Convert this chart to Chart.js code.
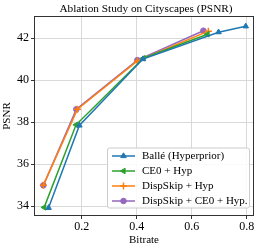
<!DOCTYPE html>
<html>
<head>
<meta charset="utf-8">
<script src="https://cdn.jsdelivr.net/npm/chart.js@4/dist/chart.umd.min.js"></script>
<style>
  html, body { margin: 0; padding: 0; background: #fff; }
  #wrap { width: 263px; height: 250px; }
</style>
</head>
<body>
<div id="wrap"><canvas id="c" width="263" height="250"></canvas></div>
<script>
// series names
var names = ["Ballé (Hyperprior)", "CE0 + Hyp", "DispSkip + Hyp", "DispSkip + CE0 + Hyp."];
// bitrate / psnr
var balleX = [0.079, 0.191, 0.422, 0.697, 0.796];
var balleY = [33.93, 37.85, 41.01, 42.29, 42.57];
var ce0X = [0.063, 0.179, 0.424, 0.657];
var ce0Y = [33.95, 37.88, 41.05, 42.19];
var skipX = [0.060, 0.184, 0.402, 0.660];
var skipY = [35.0, 38.62, 40.92, 42.34];
var bothX = [0.060, 0.180, 0.402, 0.642];
var bothY = [35.0, 38.62, 40.96, 42.36];
var xTicks = [0.2, 0.4, 0.6, 0.8];
var yTicks = [34, 36, 38, 40, 42];

var serif = "'Liberation Serif', 'DejaVu Serif', serif";

function pts(xs, ys) {
  return xs.map(function (x, i) { return { x: x, y: ys[i] }; });
}

var colors = ["#1f77b4", "#2ca02c", "#ff7f0e", "#9467bd"];
var styles = ["triangle", "triangle", "cross", "circle"];
var rots = [0, -90, 0, 0];
var sizes = [3.2, 3.2, 3.5, 2.8];
var series = [pts(balleX, balleY), pts(ce0X, ce0Y), pts(skipX, skipY), pts(bothX, bothY)];

var datasets = series.map(function (d, i) {
  return {
    label: names[i],
    data: d,
    borderColor: colors[i],
    backgroundColor: colors[i],
    borderWidth: 1.5,
    pointStyle: styles[i],
    pointRotation: rots[i],
    pointRadius: sizes[i],
    pointBorderWidth: styles[i] == "cross" ? 1.5 : 1,
    tension: 0
  };
});

// title + frame + legend drawn by hand, matplotlib style
var extras = {
  id: "extras",
  afterDraw: function (chart) {
    var ctx = chart.ctx, a = chart.chartArea;
    ctx.save();
    ctx.strokeStyle = "#333";
    ctx.lineWidth = 1;
    ctx.strokeRect(Math.round(a.left) + 0.5, Math.round(a.top) + 0.5, Math.round(a.right - a.left) - 1, Math.round(a.bottom - a.top) - 1);

    ctx.fillStyle = "#000";
    ctx.font = "11.3px " + serif;
    ctx.textAlign = "center";
    ctx.textBaseline = "middle";
    ctx.fillText("Ablation Study on Cityscapes (PSNR)", (a.left + a.right) / 2 + 2, 9);

    // legend box
    var bx = 107, by = 147.5, bw = 142, bh = 60;
    ctx.fillStyle = "rgba(255,255,255,0.85)";
    ctx.strokeStyle = "#ccc";
    ctx.beginPath();
    ctx.roundRect(bx + 0.5, by + 0.5, bw, bh, 2);
    ctx.fill();
    ctx.stroke();
    ctx.font = "11px " + serif;
    ctx.textAlign = "left";
    for (var i = 0; i < names.length; i++) {
      var y = 156 + i * 15;
      ctx.strokeStyle = colors[i];
      ctx.lineWidth = 1.5;
      ctx.beginPath();
      ctx.moveTo(112, y);
      ctx.lineTo(135, y);
      ctx.stroke();
      ctx.fillStyle = colors[i];
      ctx.strokeStyle = colors[i];
      ctx.lineWidth = styles[i] == "cross" ? 1.5 : 1;
      Chart.helpers.drawPoint(ctx, { pointStyle: styles[i], rotation: rots[i], radius: sizes[i], borderWidth: 1 }, 123.5, y);
      ctx.fillStyle = "#000";
      ctx.fillText(names[i], 142, y + 0.5);
    }
    ctx.restore();
  }
};

new Chart(document.getElementById("c"), {
  type: "line",
  data: { datasets: datasets },
  options: {
    responsive: false,
    animation: false,
    layout: { padding: { top: 16, right: 9, left: 0, bottom: 3 } },
    plugins: { legend: { display: false }, title: { display: false }, tooltip: { enabled: false } },
    scales: {
      x: {
        type: "linear",
        min: 0.026,
        max: 0.826,
        afterFit: function (s) { s.height = 31; },
        afterBuildTicks: function (s) { s.ticks = xTicks.map(function (v) { return { value: v }; }); },
        grid: { color: "#d9d9d9", lineWidth: 1, drawTicks: true, tickLength: 3, tickColor: "#333" },
        border: { display: false },
        ticks: { color: "#000", font: { family: serif, size: 12 }, padding: 1, maxRotation: 0,
          callback: function (v) { return v.toFixed(1); } },
        title: { display: true, text: "Bitrate", color: "#000", font: { family: serif, size: 11 }, padding: 0 }
      },
      y: {
        type: "linear",
        min: 33.54,
        max: 43.06,
        afterFit: function (s) { s.width = 34; },
        afterBuildTicks: function (s) { s.ticks = yTicks.map(function (v) { return { value: v }; }); },
        grid: { color: "#d9d9d9", lineWidth: 1, drawTicks: true, tickLength: 3, tickColor: "#333" },
        border: { display: false },
        ticks: { color: "#000", font: { family: serif, size: 12 }, padding: 2,
          callback: function (v) { return String(v); } },
        title: { display: true, text: "PSNR", color: "#000", font: { family: serif, size: 11 }, padding: 1 }
      }
    }
  },
  plugins: [extras]
});
</script>
</body>
</html>
